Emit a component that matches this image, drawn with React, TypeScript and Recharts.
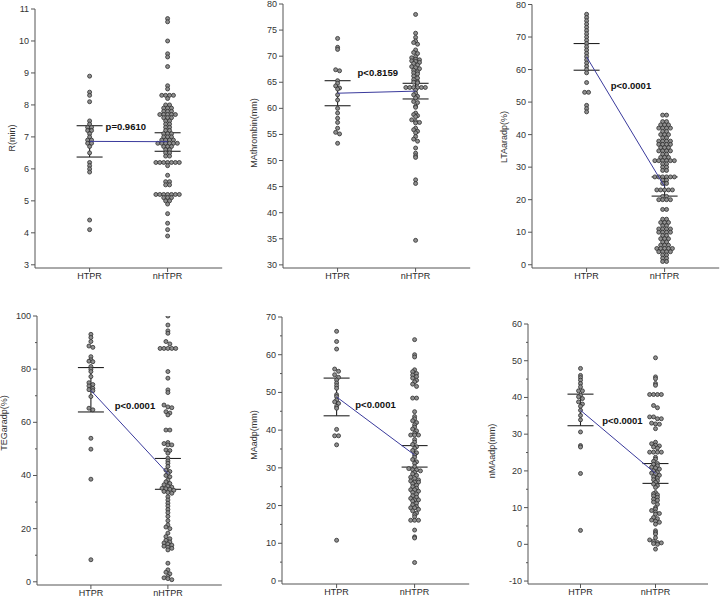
import React from 'react';
import { ScatterChart, Scatter, XAxis, YAxis, ErrorBar } from 'recharts';

const groups = ['HTPR', 'nHTPR'];

// R(min)
const rHtpr = [8.9, 8.4, 8.3, 8.1, 7.5, 7.4, 7.3, 7.3, 7.2, 7.2, 7.1, 7.0, 6.9, 6.9, 6.8, 6.8, 6.7, 6.5, 6.2, 6.1, 6.0, 5.9, 4.4, 4.1];
const rNhtpr = [
  10.7, 10.6, 10.0, 9.6, 9.5, 9.2, 8.6, 8.5, 8.3, 8.3, 8.3, 8.3, 8.2, 8.0, 8.0, 7.9, 7.9, 7.9, 7.8, 7.8, 7.8,
  7.7, 7.7, 7.7, 7.7, 7.7, 7.6, 7.6, 7.6, 7.5, 7.5, 7.4, 7.4, 7.3, 7.3, 7.2, 7.2, 7.1, 7.1, 7.1, 7.0, 7.0, 7.0,
  6.9, 6.9, 6.9, 6.9, 6.8, 6.8, 6.8, 6.8, 6.8, 6.8, 6.7, 6.7, 6.7, 6.6, 6.6, 6.5, 6.5, 6.4, 6.4,
  6.2, 6.2, 6.2, 6.2, 6.2, 6.2, 6.2, 6.1, 5.8, 5.6, 5.6, 5.5, 5.5, 5.2, 5.2, 5.2, 5.2, 5.2, 5.2, 5.2,
  5.1, 5.1, 5.1, 5.0, 5.0, 4.9, 4.6, 4.3, 4.1, 3.9,
];
const rMean = [6.86, 6.85];
const rLow = [6.37, 6.55];
const rHigh = [7.35, 7.13];
const rTicks = [3, 4, 5, 6, 7, 8, 9, 10, 11];

// MAthrombin(mm)
const maThrHtpr = [73.4, 71.7, 71.3, 67.4, 67.2, 65.3, 64.8, 64.3, 63.9, 63.7, 62.6, 61.6, 60.0, 59.1, 58.1, 57.3, 56.2, 55.4, 55.1, 53.3];
const maThrNhtpr = [
  78.0, 74.4, 73.6, 72.9, 72.6, 72.3, 71.2, 70.7, 70.5, 69.9, 69.7, 69.4, 69.3, 69.1, 69.0, 68.8, 68.6, 68.3,
  68.0, 67.8, 67.6, 67.3, 67.0, 66.8, 66.6, 66.2, 65.8, 65.5, 65.1, 65.0, 64.9, 64.0, 64.0, 64.0, 64.0, 64.0,
  64.0, 63.5, 62.9, 62.6, 62.3, 62.0, 61.3, 61.1, 60.4, 60.2, 59.1, 58.8, 58.6, 58.4, 57.8, 57.5, 57.3, 57.2,
  56.2, 55.9, 55.6, 55.3, 54.6, 54.1, 53.7, 52.4, 51.4, 50.9, 50.6, 46.3, 45.6, 34.7,
];
const maThrMean = [62.9, 63.3];
const maThrLow = [60.5, 61.8];
const maThrHigh = [65.3, 64.8];
const maThrTicks = [30, 35, 40, 45, 50, 55, 60, 65, 70, 75, 80];

// LTAaradp(%)
const ltaHtpr = [77, 76, 75, 74, 73, 72, 71, 70, 69, 68, 67, 66, 65, 64, 63, 62, 61, 60, 59, 56, 53, 53, 49, 48, 47];
const ltaNhtpr = [
  46, 46, 44, 44, 43, 43, 43, 42, 42, 42, 42, 41, 41, 40, 40, 40, 39, 39, 38, 38, 38, 38, 37, 37, 37, 37,
  36, 36, 36, 35, 35, 35, 35, 34, 34, 33, 33, 33, 32, 32, 32, 32, 32, 32, 31, 31, 30, 30, 29, 29,
  27, 27, 27, 27, 27, 27, 26, 26, 25, 25, 23, 23, 23, 23, 23, 21, 21, 20, 20, 20, 20, 17, 17,
  14, 14, 13, 13, 13, 12, 12, 11, 11, 11, 11, 10, 10, 10, 10, 9, 9, 8, 8, 8, 7, 7, 6, 6, 6,
  5, 5, 5, 5, 5, 4, 4, 4, 4, 3, 3, 2, 2, 1, 1,
];
const ltaMean = [63.9, 24.0];
const ltaLow = [59.8, 21.1];
const ltaHigh = [68.0, 27.0];
const ltaTicks = [0, 10, 20, 30, 40, 50, 60, 70, 80];

// TEGaradp(%)
const tegHtpr = [93.1, 91.9, 90.4, 88.7, 88.2, 84.7, 83.5, 83.0, 82.8, 81.0, 80.0, 79.1, 77.2, 74.9, 74.2, 73.7, 72.8, 72.3, 71.9, 69.7, 65.3, 64.7, 54.0, 49.9, 38.6, 8.3];
const tegNhtpr = [
  100, 96.6, 94.4, 93.5, 90.4, 89.5, 87.8, 87.8, 87.8, 87.8, 87.8, 79.1, 76.6, 72.2, 71.2, 66.5, 65.8, 65.5,
  64.0, 63.5, 62.8, 57.1, 57.1, 52.4, 52.0, 51.5, 51.5, 49.6, 49.4, 48.4, 46.5, 45.5, 44.6, 43.4, 42.0, 41.5,
  40.8, 40.0, 39.5, 38.3, 37.6, 37.0, 36.5, 36.0, 35.6, 35.2, 35.0, 34.8, 34.4, 34.0, 33.6, 33.3, 32.0, 30.8,
  29.6, 28.5, 27.2, 26.0, 24.6, 23.0, 21.4, 20.6, 20.0, 18.3, 17.0, 16.2, 15.6, 15.0, 14.6, 14.2, 13.8, 13.4,
  13.0, 12.6, 12.0, 7.0, 4.5, 3.6, 3.0, 2.0, 1.5, 1.2, 0.8,
];
const tegMean = [72.0, 40.7];
const tegLow = [63.9, 34.8];
const tegHigh = [80.6, 46.4];
const tegTicks = [0, 20, 40, 60, 80, 100];
const tegMinor = [10, 30, 50, 70, 90];

// MAadp(mm)
const maAdpHtpr = [66.2, 63.5, 61.5, 56.2, 55.6, 54.7, 54.0, 53.3, 52.5, 51.8, 51.1, 49.4, 48.9, 48.0, 47.5, 47.1, 46.3, 45.8, 40.2, 38.5, 38.5, 36.1, 10.8];
const maAdpNhtpr = [
  64.0, 60.0, 59.4, 56.0, 55.5, 55.0, 54.6, 54.2, 53.8, 53.2, 52.8, 52.2, 51.6, 48.5, 48.5, 44.9, 43.6, 43.0,
  42.5, 42.0, 41.4, 40.8, 40.3, 39.8, 39.2, 38.7, 38.7, 38.7, 37.5, 36.8, 36.2, 35.6, 35.2, 34.6, 34.0, 33.4,
  32.8, 32.2, 31.6, 31.2, 30.3, 29.8, 29.5, 29.5, 29.2, 28.8, 28.4, 28.0, 27.5, 27.2, 26.8, 26.5, 26.2, 26.2,
  25.8, 25.4, 25.0, 24.6, 24.2, 24.2, 23.8, 23.5, 23.0, 22.6, 22.2, 21.9, 21.5, 21.5, 21.2, 20.6, 20.2, 19.7,
  19.4, 19.4, 19.0, 18.6, 18.0, 17.6, 17.0, 16.1, 16.1, 16.1, 13.5, 11.7, 11.4, 4.9,
];
const maAdpMean = [48.8, 33.4];
const maAdpLow = [43.8, 30.2];
const maAdpHigh = [53.8, 35.9];
const maAdpTicks = [0, 10, 20, 30, 40, 50, 60, 70];
const maAdpMinor = [5, 15, 25, 35, 45, 55, 65];

// nMAadp(mm)
const nmaHtpr = [47.9, 46.0, 45.4, 44.7, 43.8, 42.9, 41.8, 41.8, 40.6, 40.2, 39.7, 38.8, 38.2, 37.6, 36.5, 35.1, 33.9, 30.6, 26.9, 26.5, 19.3, 3.8];
const nmaNhtpr = [
  50.8, 45.6, 45.1, 43.8, 43.3, 40.8, 40.8, 40.8, 40.8, 37.8, 37.2, 34.7, 34.7, 34.2, 34.2, 33.0, 32.8, 32.7,
  31.5, 27.8, 27.4, 27.0, 26.8, 26.5, 26.2, 25.1, 25.1, 25.1, 25.1, 23.7, 23.2, 22.6, 22.0, 21.8, 21.4, 21.0,
  20.8, 20.5, 20.0, 19.6, 19.4, 19.2, 18.8, 18.4, 18.0, 17.6, 17.3, 16.9, 16.4, 16.0, 15.5, 14.1, 13.8, 13.5,
  13.2, 12.8, 12.3, 12.0, 11.5, 10.9, 10.0, 9.6, 9.2, 8.8, 8.4, 8.2, 7.3, 7.0, 6.6, 6.3, 6.0, 5.5, 3.7, 3.2,
  2.8, 1.8, 1.2, 0.8, 0.5, 0.4, 0.2, 0.0, -1.3,
];
const nmaMean = [36.5, 19.3];
const nmaLow = [32.3, 16.6];
const nmaHigh = [40.9, 22.0];
const nmaTicks = [-10, 0, 10, 20, 30, 40, 50, 60];
const nmaMinor = [-5, 5, 15, 25, 35, 45, 55];

const pLabels = ['p=0.9610', 'p<0.8159', 'p<0.0001', 'p<0.0001', 'p<0.0001', 'p<0.0001'];

const DOT_GAP = 3.9; // px between dots sharing a row

interface Panel {
  title: string;
  htpr: number[];
  nhtpr: number[];
  mean: number[];
  low: number[];
  high: number[];
  ticks: number[];
  minor: number[];
  domain: [number, number];
  bin: number;
  pAt: [number, number];
  // layout, relative to the 240x300 cell
  left: number;
  top: number;
  bottom: number;
  gap: number; // px between the two groups
  labelX: number;
  labelY: number;
}

const panels: Panel[] = [
  { title: 'R(min)', htpr: rHtpr, nhtpr: rNhtpr, mean: rMean, low: rLow, high: rHigh, ticks: rTicks, minor: [], domain: [2.9, 11], bin: 0.1, pAt: [1.205, 7.31], left: 35, top: 9, bottom: 268, gap: 78, labelX: 12, labelY: 138 },
  { title: 'MAthrombin(mm)', htpr: maThrHtpr, nhtpr: maThrNhtpr, mean: maThrMean, low: maThrLow, high: maThrHigh, ticks: maThrTicks, minor: [], domain: [29.4, 80], bin: 0.6, pAt: [1.256, 66.8], left: 43, top: 4, bottom: 268, gap: 78, labelX: 14, labelY: 133 },
  { title: 'LTAaradp(%)', htpr: ltaHtpr, nhtpr: ltaNhtpr, mean: ltaMean, low: ltaLow, high: ltaHigh, ticks: ltaTicks, minor: [], domain: [-1, 80], bin: 1, pAt: [1.31, 55.2], left: 52, top: 4.5, bottom: 268, gap: 78, labelX: 24, labelY: 137 },
  { title: 'TEGaradp(%)', htpr: tegHtpr, nhtpr: tegNhtpr, mean: tegMean, low: tegLow, high: tegHigh, ticks: tegTicks, minor: tegMinor, domain: [-1.2, 100], bin: 1.2, pAt: [1.31, 66.2], left: 37, top: 16, bottom: 285, gap: 77, labelX: 4, labelY: 123 },
  { title: 'MAadp(mm)', htpr: maAdpHtpr, nhtpr: maAdpNhtpr, mean: maAdpMean, low: maAdpLow, high: maAdpHigh, ticks: maAdpTicks, minor: maAdpMinor, domain: [-0.8, 70], bin: 0.8, pAt: [1.24, 46.9], left: 42, top: 17, bottom: 284, gap: 78, labelX: 14, labelY: 135 },
  { title: 'nMAadp(mm)', htpr: nmaHtpr, nhtpr: nmaNhtpr, mean: nmaMean, low: nmaLow, high: nmaHigh, ticks: nmaTicks, minor: nmaMinor, domain: [-10.8, 60], bin: 0.8, pAt: [1.29, 33.8], left: 48, top: 24, bottom: 284, gap: 75, labelX: 12, labelY: 151 },
];

// dot plot layout: values falling in the same row are spread side by side
function swarm(values: number[], group: number, bin: number, step: number) {
  const rows = new Map<number, number[]>();
  values.forEach((v) => {
    const k = Math.round(v / bin);
    if (!rows.has(k)) rows.set(k, []);
    rows.get(k)!.push(v);
  });
  const pts: { x: number; y: number }[] = [];
  rows.forEach((list) => {
    const n = list.length;
    list.forEach((v, i) => pts.push({ x: group + (i - (n - 1) / 2) * step, y: v }));
  });
  return pts;
}

const Dot = (props: any) => (
  <circle cx={props.cx} cy={props.cy} r={2} fill="#8f8f8f" stroke="#2e2e2e" strokeWidth={0.8} />
);

const makeYTick = (majors: number[]) => (props: any) => {
  const { x, y, payload } = props;
  const major = majors.includes(payload.value);
  return (
    <g>
      <line x1={x - (major ? 4 : 2)} x2={x} y1={y} y2={y} stroke="#555" />
      {major && (
        <text x={x - 6} y={y} textAnchor="end" dominantBaseline="central" fontSize={9} fill="#333">
          {payload.value}
        </text>
      )}
    </g>
  );
};

function DotPanel({ panel, index }: { panel: Panel; index: number }) {
  const plotW = panel.gap * 2.4;
  const step = DOT_GAP / panel.gap;
  const dots = [...swarm(panel.htpr, 1, panel.bin, step), ...swarm(panel.nhtpr, 2, panel.bin, step)];
  const means = panel.mean.map((m, i) => ({ x: i + 1, y: m, err: [m - panel.low[i], panel.high[i] - m] }));
  const note = [{ x: panel.pAt[0], y: panel.pAt[1] }];
  const col = index % 3;
  const row = Math.floor(index / 3);

  return (
    <div style={{ position: 'absolute', left: col * 240, top: row * 300, width: 240, height: 300 }}>
      <ScatterChart
        width={240}
        height={300}
        margin={{ top: panel.top, left: 0, right: 240 - panel.left - plotW, bottom: 300 - panel.bottom - 12 }}
      >
        <XAxis
          type="number"
          dataKey="x"
          domain={[0.3, 2.7]}
          ticks={[1, 2]}
          interval={0}
          allowDataOverflow
          height={12}
          tickSize={4}
          tickMargin={1}
          tickFormatter={(v: number) => groups[v - 1]}
          tick={{ fontSize: 9, fill: '#2a2a2a' }}
          stroke="#555"
        />
        <YAxis
          type="number"
          dataKey="y"
          width={panel.left}
          domain={panel.domain}
          ticks={[...panel.ticks, ...panel.minor].sort((a, b) => a - b)}
          interval={0}
          allowDataOverflow
          tickLine={false}
          tickSize={0}
          tickMargin={0}
          tick={makeYTick(panel.ticks)}
          stroke="#555"
        />
        <Scatter data={dots} shape={Dot} isAnimationActive={false} />
        <Scatter
          data={means}
          line={{ stroke: '#3a3a9c', strokeWidth: 1 }}
          shape={() => <g />}
          isAnimationActive={false}
        >
          <ErrorBar dataKey="err" direction="y" width={13} stroke="#222" strokeWidth={1.1} />
        </Scatter>
        <Scatter
          data={note}
          shape={(p: any) => (
            <text x={p.cx} y={p.cy} dominantBaseline="central" fontSize={9.5} fontWeight="bold" fill="#111">
              {pLabels[index]}
            </text>
          )}
          isAnimationActive={false}
        />
      </ScatterChart>
      <div
        style={{
          position: 'absolute',
          left: panel.labelX,
          top: panel.labelY,
          transform: 'translate(-50%, -50%) rotate(-90deg)',
          whiteSpace: 'nowrap',
          fontSize: 9,
          color: '#333',
        }}
      >
        {panel.title}
      </div>
    </div>
  );
}

export default function App() {
  return (
    <div
      style={{
        position: 'relative',
        width: 720,
        height: 597,
        overflow: 'hidden',
        background: '#fff',
        fontFamily: '"Liberation Sans", Arial, sans-serif',
      }}
    >
      <style>{'body { margin: 0; }'}</style>
      {panels.map((p, i) => (
        <DotPanel key={p.title} panel={p} index={i} />
      ))}
    </div>
  );
}
